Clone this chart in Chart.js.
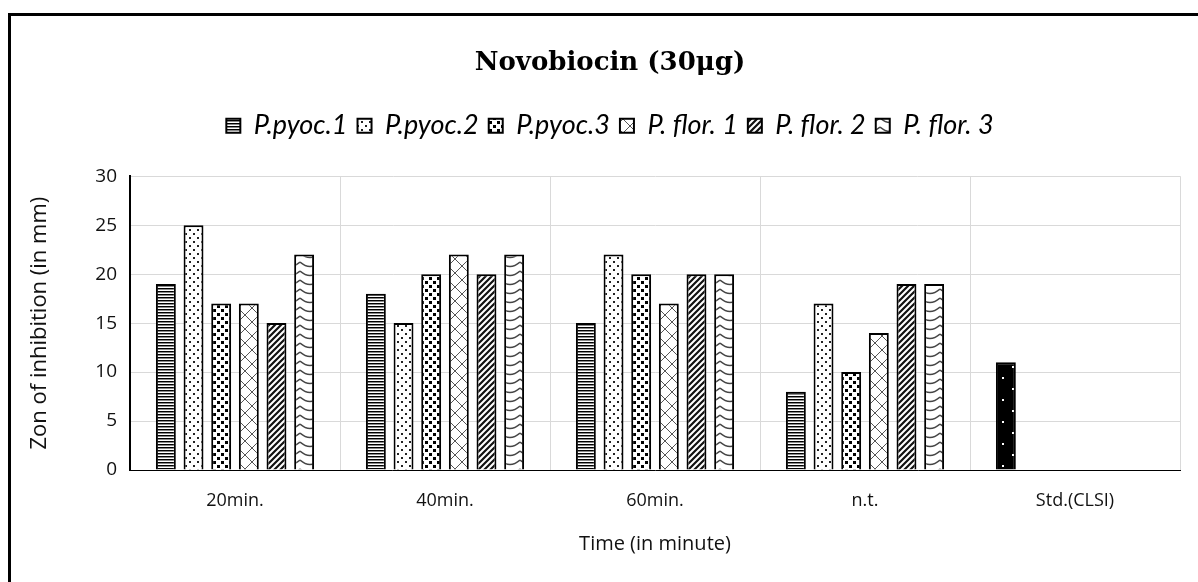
<!DOCTYPE html>
<html>
<head>
<meta charset="utf-8">
<script src="https://cdn.jsdelivr.net/npm/chart.js@4.4.1/dist/chart.umd.min.js"></script>
<style>
  html, body { margin: 0; padding: 0; background: #fff; }
  #wrap { position: relative; width: 1198px; height: 582px; overflow: hidden; }
  #frame { position: absolute; left: 8px; top: 13px; right: -10px; bottom: -10px;
           border: 3px solid #000; pointer-events: none; }
</style>
</head>
<body>
<div id="wrap">
  <canvas id="chart" width="1198" height="582"></canvas>
  <div id="frame"></div>
</div>
<script>
// categories and values
const categories = ['20min.', '40min.', '60min.', 'n.t.', 'Std.(CLSI)'];
const seriesNames = ['P.pyoc.1', 'P.pyoc.2', 'P.pyoc.3', 'P. flor. 1', 'P. flor. 2', 'P. flor. 3'];
const pPyoc1 = [19, 18, 15, 8, 11];
const pPyoc2 = [25, 15, 22, 17, null];
const pPyoc3 = [17, 20, 20, 10, null];
const pFlor1 = [17, 22, 17, 14, null];
const pFlor2 = [15, 20, 20, 19, null];
const pFlor3 = [22, 22, 20, 19, null];
const yTicks = [0, 5, 10, 15, 20, 25, 30];

// small pattern tiles, Excel-like fills
function makePattern(w, h, draw) {
  const c = document.createElement('canvas');
  c.width = w; c.height = h;
  const g = c.getContext('2d');
  draw(g, w, h);
  return g.createPattern(c, 'repeat');
}

const ctx = document.getElementById('chart').getContext('2d');

const patHLines = makePattern(4, 3, (g) => {
  g.fillStyle = '#fff'; g.fillRect(0, 0, 4, 3);
  g.fillStyle = '#000'; g.fillRect(0, 0, 4, 1);
  g.fillStyle = '#8a8a8a'; g.fillRect(0, 1, 4, 1);
});
const patDots = makePattern(8, 8, (g) => {
  g.fillStyle = '#fff'; g.fillRect(0, 0, 8, 8);
  g.fillStyle = '#222'; g.fillRect(1, 1, 2, 2); g.fillRect(5, 5, 2, 2);
});
const patSquares = makePattern(8, 8, (g) => {
  g.fillStyle = '#fff'; g.fillRect(0, 0, 8, 8);
  g.fillStyle = '#000'; g.fillRect(1, 1, 3, 3); g.fillRect(5, 5, 3, 3);
});
const patTrellis = makePattern(14, 14, (g) => {
  g.fillStyle = '#fff'; g.fillRect(0, 0, 14, 14);
  g.strokeStyle = '#555'; g.lineWidth = 1;
  g.beginPath(); g.moveTo(0, 0); g.lineTo(14, 14); g.moveTo(14, 0); g.lineTo(0, 14); g.stroke();
});
const patDiag = makePattern(6, 6, (g) => {
  g.fillStyle = '#fff'; g.fillRect(0, 0, 6, 6);
  g.strokeStyle = '#111'; g.lineWidth = 2.2;
  g.beginPath();
  g.moveTo(-1, 7); g.lineTo(7, -1);
  g.moveTo(-4, 4); g.lineTo(4, -4);
  g.moveTo(2, 10); g.lineTo(10, 2);
  g.stroke();
});
const patWave = makePattern(20, 9, (g) => {
  g.fillStyle = '#fff'; g.fillRect(0, 0, 20, 9);
  g.strokeStyle = '#444'; g.lineWidth = 1.5;
  g.beginPath(); g.moveTo(0, 1); g.quadraticCurveTo(10, 10, 20, 1); g.stroke();
});
const patStd = makePattern(20, 22, (g) => {
  g.fillStyle = '#000'; g.fillRect(0, 0, 20, 22);
  g.fillStyle = '#fff'; g.fillRect(2, 3, 2, 2); g.fillRect(12, 14, 2, 2);
});

const values = [pPyoc1, pPyoc2, pPyoc3, pFlor1, pFlor2, pFlor3];
const fills = [
  [patHLines, patHLines, patHLines, patHLines, patStd],
  patDots, patSquares, patTrellis, patDiag, patWave
];

const datasets = values.map((v, i) => ({
  label: seriesNames[i],
  data: v,
  backgroundColor: fills[i],
  borderColor: '#000',
  borderWidth: 2,
  categoryPercentage: 0.79,
  barPercentage: 0.72
}));

// push the plot area down below the legend
const legendSpacer = {
  id: 'legendSpacer',
  beforeLayout(chart) {
    const lg = chart.legend;
    if (lg && !lg._spaced) {
      const fit = lg.fit;
      lg.fit = function () { fit.call(this); this.height += 27; };
      lg._spaced = true;
    }
  }
};

new Chart(ctx, {
  type: 'bar',
  data: { labels: categories, datasets: datasets },
  plugins: [legendSpacer],
  options: {
    responsive: false,
    animation: false,
    layout: { padding: { top: 48, left: 40, right: 18, bottom: 0 } },
    plugins: {
      title: {
        display: true,
        text: 'Novobiocin (30μg)',
        color: '#000',
        font: { family: 'DejaVu Serif', size: 26, weight: 'bold' },
        padding: { top: 0, bottom: 23 }
      },
      legend: {
        display: true,
        labels: {
          color: '#000',
          font: { family: 'Lato', size: 27, style: 'italic' },
          boxWidth: 14,
          boxHeight: 14,
          padding: 10
        }
      },
      tooltip: { enabled: false }
    },
    scales: {
      x: {
        grid: {
          offset: true,
          drawTicks: false,
          color: (c) => (c.index === categories.length ? 'rgba(0,0,0,0)' : '#d9d9d9')
        },
        border: { color: '#000', width: 1 },
        ticks: { color: '#111', font: { family: 'Open Sans', size: 18 }, padding: 20 },
        title: {
          display: true,
          text: 'Time (in minute)',
          color: '#111',
          font: { family: 'Open Sans', size: 20 },
          padding: { top: 8, bottom: 26 }
        },
        afterFit(scale) { scale.height = 112; }
      },
      y: {
        min: 0,
        max: 30,
        afterBuildTicks(scale) { scale.ticks = yTicks.map(v => ({ value: v })); },
        grid: { color: '#d9d9d9', drawTicks: false },
        border: { color: '#000', width: 2 },
        ticks: { color: '#111', font: { family: 'Open Sans', size: 19 }, padding: 13 },
        title: {
          display: true,
          text: 'Zon of inhibition (in mm)',
          color: '#111',
          font: { family: 'Open Sans', size: 22 },
          padding: { top: -13, bottom: 0 }
        },
        afterFit(scale) { scale.width = 90; }
      }
    }
  }
});
</script>
</body>
</html>
